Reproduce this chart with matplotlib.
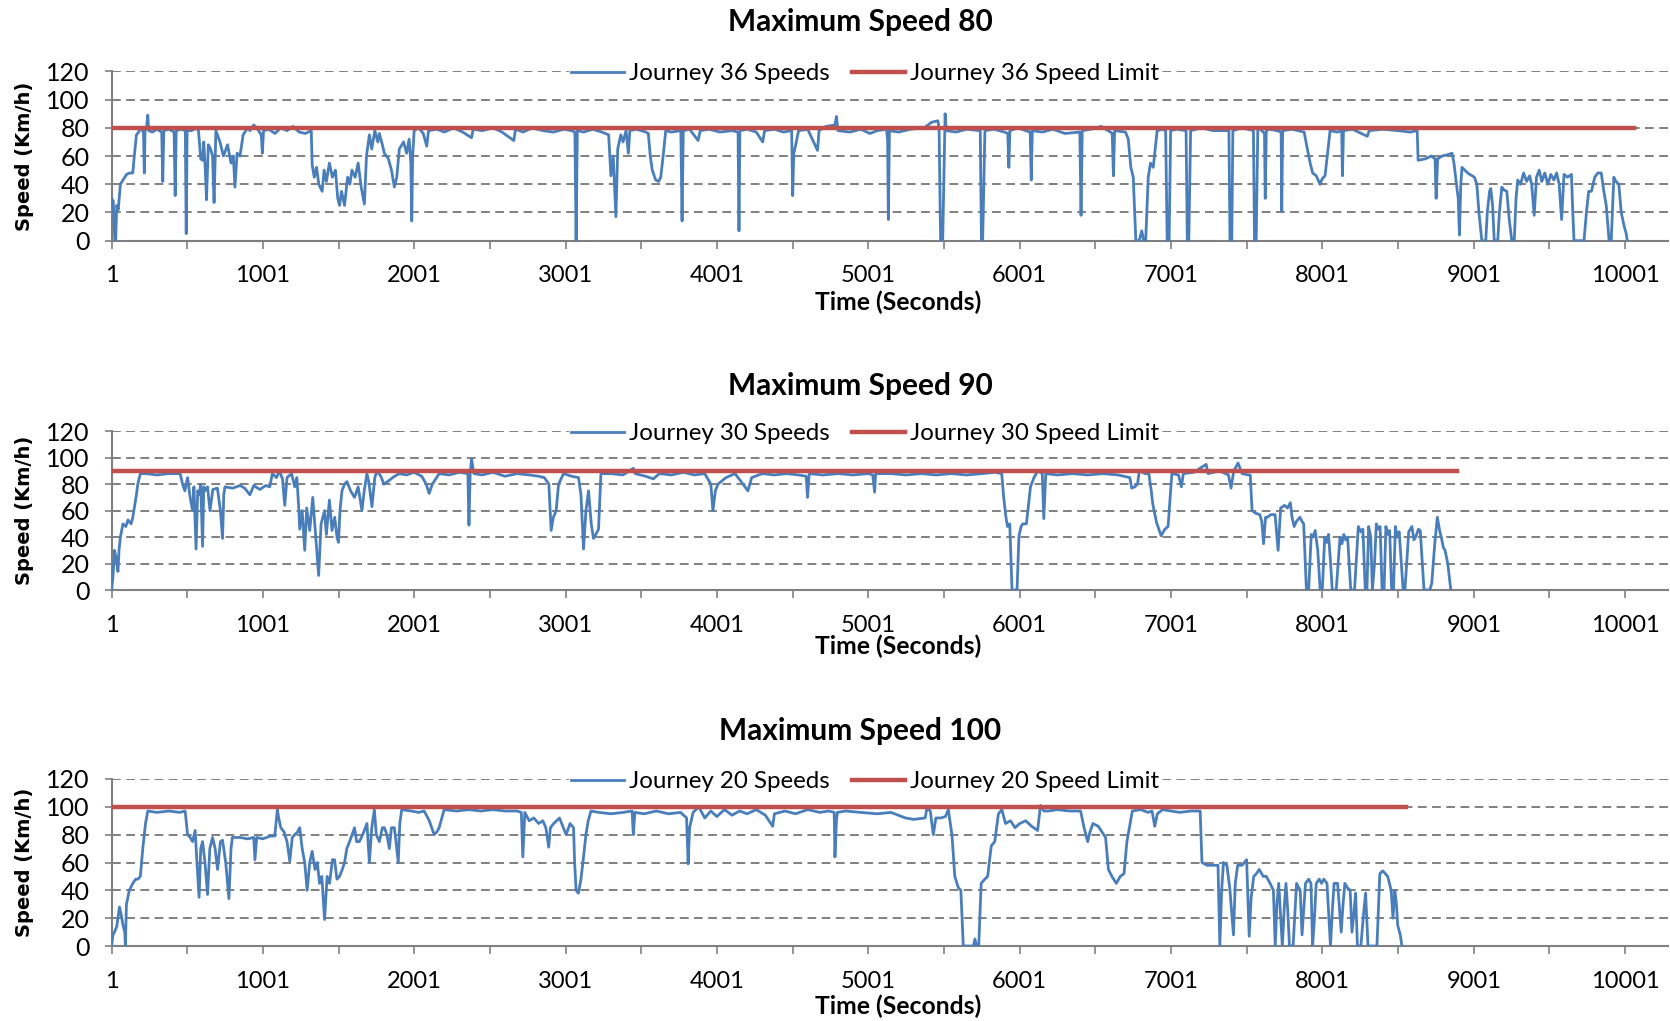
import matplotlib
matplotlib.use('Agg')
from matplotlib import pyplot as plt

plt.rcParams['font.family'] = ['Lato', 'DejaVu Sans']

##### Data: (time in seconds, speed in km/h)
journey36 = [(1,30),(12,28),(22,0),(28,0),(35,25),(45,22),(59,40),(76,43),(100,47),(120,48),(141,48),(151,60),(165,75),(180,77),(191,80),
    (205,78),(212,76),(217,48),(222,78),(232,80),(240,89),(246,78),(270,77),(300,79),(332,77),(339,42),(346,78),(380,79),(414,77),(421,32),
    (428,78),(460,79),(488,78),(494,5),(500,78),(530,78),(560,80),(575,78),(590,58),(602,57),(610,70),(620,50),(628,29),(640,68),(655,65),
    (668,60),(678,27),(690,78),(717,70),(740,60),(767,68),(790,55),(805,60),(816,38),(830,62),(849,60),(870,75),(900,80),(915,78),(940,82),
    (960,80),(990,75),(997,62),(1005,78),(1040,79),(1080,76),(1120,80),(1160,78),(1200,81),(1240,77),(1280,76),(1320,78),(1326,54),(1340,45),
    (1355,52),(1370,40),(1392,35),(1405,50),(1420,42),(1440,55),(1460,45),(1480,50),(1495,30),(1507,25),(1520,35),(1540,25),(1560,45),
    (1575,40),(1589,50),(1610,45),(1630,55),(1650,38),(1671,26),(1685,60),(1704,75),(1720,65),(1740,78),(1760,70),(1770,76),(1790,68),
    (1803,62),(1830,58),(1850,50),(1869,38),(1885,45),(1902,65),(1930,70),(1950,62),(1967,72),(1978,55),(1984,14),(1990,60),(2000,78),
    (2030,80),(2060,76),(2083,67),(2095,78),(2150,79),(2200,77),(2260,80),(2320,77),(2379,73),(2390,79),(2450,78),(2520,80),(2580,77),
    (2658,71),(2670,79),(2720,77),(2780,80),(2850,78),(2920,77),(2990,79),(3040,78),(3062,77),(3070,0),(3078,78),(3120,77),(3180,79),
    (3240,77),(3285,75),(3300,46),(3315,60),(3333,17),(3345,65),(3365,75),(3380,70),(3400,78),(3415,62),(3425,78),(3470,79),(3530,77),
    (3547,76),(3560,60),(3573,50),(3596,43),(3615,42),(3629,45),(3645,60),(3662,78),(3700,77),(3762,78),(3770,14),(3778,78),(3820,79),
    (3876,71),(3890,78),(3950,79),(4020,77),(4100,78),(4140,77),(4146,7),(4152,78),(4200,79),(4260,77),(4303,70),(4315,78),(4380,79),
    (4440,77),(4494,78),(4501,32),(4508,62),(4517,66),(4540,78),(4600,79),(4665,64),(4675,78),(4720,81),(4780,82),(4790,88),(4800,78),
    (4880,77),(4950,79),(5011,76),(5060,78),(5120,79),(5128,72),(5133,15),(5140,78),(5200,77),(5280,79),(5369,80),(5420,84),(5460,85),
    (5468,80),(5478,0),(5492,0),(5508,90),(5515,78),(5580,77),(5650,79),(5740,78),(5748,0),(5756,0),(5771,78),(5830,79),(5900,77),
    (5922,76),(5929,52),(5936,78),(5990,80),(6040,78),(6070,77),(6077,43),(6084,78),(6150,77),(6220,79),(6300,76),(6398,77),(6406,18),
    (6414,78),(6470,79),(6540,81),(6600,77),(6612,76),(6620,46),(6628,78),(6700,77),(6718,72),(6735,52),(6751,45),(6768,0),(6790,0),
    (6807,7),(6820,0),(6833,0),(6850,45),(6865,55),(6883,52),(6909,78),(6940,79),(6965,78),(6975,0),(6988,0),(6998,78),(7040,79),
    (7100,78),(7108,0),(7118,0),(7130,78),(7200,80),(7280,78),(7383,78),(7390,0),(7402,0),(7409,78),(7470,80),(7545,78),(7552,0),
    (7563,0),(7574,80),(7600,78),(7618,76),(7623,30),(7630,78),(7650,79),(7700,78),(7728,77),(7732,21),(7738,78),(7800,79),(7880,77),
    (7903,64),(7920,55),(7936,48),(7960,46),(7985,40),(8000,44),(8018,46),(8035,62),(8051,78),(8100,77),(8128,78),(8133,46),(8140,78),
    (8200,79),(8297,74),(8310,78),(8400,79),(8500,78),(8580,77),(8627,78),(8633,57),(8680,58),(8720,60),(8745,58),(8752,30),(8762,58),
    (8791,60),(8830,61),(8857,62),(8870,55),(8883,43),(8898,30),(8906,4),(8915,40),(8923,52),(8960,48),(9005,45),(9021,40),(9035,20),
    (9054,0),(9080,0),(9090,20),(9105,35),(9113,37),(9125,25),(9136,0),(9159,0),(9170,20),(9186,38),(9200,36),(9219,35),(9235,15),
    (9252,0),(9268,0),(9280,30),(9291,43),(9310,40),(9330,48),(9350,42),(9370,46),(9383,40),(9400,18),(9415,45),(9433,50),(9450,42),
    (9470,48),(9490,40),(9510,47),(9530,43),(9548,48),(9565,40),(9581,15),(9597,47),(9620,45),(9646,47),(9655,20),(9663,0),(9700,0),
    (9729,0),(9745,20),(9760,35),(9778,35),(9800,45),(9820,48),(9843,48),(9860,35),(9876,25),(9895,0),(9909,0),(9926,45),(9940,42),
    (9959,40),(9975,20),(9995,10),(10008,5),(10015,0)]

journey30 = [(1,0),(10,10),(20,30),(30,25),(43,14),(50,30),(59,40),(76,50),(95,48),(109,53),(130,50),(141,55),(151,62),(165,72),(174,80),
    (191,88),(230,88),(300,87),(380,88),(454,88),(470,80),(485,75),(503,85),(520,70),(536,60),(545,78),(559,31),(570,75),(579,72),
    (590,80),(602,33),(610,78),(618,75),(635,78),(651,60),(670,76),(700,77),(720,60),(734,39),(742,72),(750,78),(800,77),(850,79),
    (880,77),(915,72),(940,79),(980,76),(1020,79),(1046,78),(1063,88),(1090,85),(1110,90),(1130,84),(1145,64),(1160,85),(1190,88),
    (1211,78),(1225,85),(1237,63),(1244,46),(1260,60),(1277,30),(1290,62),(1310,45),(1330,70),(1350,40),(1369,11),(1385,50),(1408,60),
    (1420,42),(1440,68),(1457,45),(1475,55),(1490,40),(1500,36),(1510,60),(1523,75),(1540,80),(1556,82),(1580,75),(1606,70),(1630,78),
    (1655,60),(1670,75),(1688,88),(1700,82),(1721,63),(1740,85),(1754,90),(1780,86),(1800,80),(1836,83),(1870,86),(1902,88),(1950,87),
    (2000,89),(2050,86),(2080,80),(2099,73),(2120,80),(2165,88),(2230,87),(2300,89),(2355,88),(2362,49),(2370,88),(2379,99),(2395,88),
    (2450,87),(2520,89),(2600,86),(2680,88),(2760,87),(2823,86),(2860,85),(2890,80),(2905,45),(2920,55),(2938,60),(2954,80),(2987,88),
    (3040,86),(3086,85),(3102,72),(3119,31),(3135,60),(3152,75),(3170,50),(3185,39),(3200,42),(3218,46),(3234,88),(3300,88),(3380,87),
    (3448,92),(3460,88),(3530,86),(3580,84),(3620,88),(3700,87),(3780,89),(3850,87),(3920,88),(3960,80),(3974,60),(3990,75),(4007,80),
    (4060,85),(4120,88),(4160,82),(4205,75),(4230,85),(4300,88),(4380,87),(4460,88),(4540,87),(4590,86),(4599,70),(4610,88),(4700,87),
    (4800,88),(4900,87),(5000,88),(5030,87),(5042,74),(5049,88),(5150,88),(5250,87),(5350,88),(5450,87),(5550,88),(5650,87),(5750,88),
    (5840,89),(5882,88),(5895,70),(5910,55),(5920,48),(5935,50),(5950,0),(5983,0),(5996,41),(6010,48),(6021,50),(6045,50),(6072,78),
    (6095,85),(6110,88),(6122,90),(6150,88),(6160,54),(6173,88),(6250,87),(6350,88),(6450,87),(6550,88),(6650,87),(6728,85),(6741,77),
    (6760,78),(6779,80),(6791,90),(6830,88),(6854,88),(6870,75),(6880,65),(6905,51),(6935,41),(6960,46),(6981,48),(7006,88),(7050,87),
    (7069,78),(7082,88),(7150,89),(7233,95),(7245,88),(7320,90),(7380,87),(7397,77),(7415,90),(7443,96),(7470,88),(7510,87),(7524,87),
    (7536,60),(7560,58),(7587,57),(7600,52),(7612,35),(7625,55),(7637,55),(7660,57),(7688,57),(7708,30),(7725,62),(7750,64),(7770,62),
    (7789,66),(7800,55),(7814,48),(7830,52),(7852,55),(7865,52),(7877,50),(7895,0),(7910,0),(7927,42),(7940,40),(7953,45),(7970,30),
    (7986,0),(8000,0),(8016,40),(8030,36),(8041,42),(8055,20),(8066,0),(8092,0),(8117,40),(8130,35),(8142,42),(8155,38),(8167,40),
    (8188,0),(8213,0),(8238,48),(8255,44),(8268,46),(8284,0),(8295,0),(8306,48),(8320,40),(8331,0),(8345,20),(8357,50),(8370,46),
    (8382,48),(8395,0),(8408,0),(8420,48),(8432,42),(8445,45),(8458,0),(8470,0),(8483,48),(8495,40),(8508,44),(8534,0),(8546,0),
    (8571,44),(8592,48),(8605,38),(8617,40),(8635,46),(8647,45),(8672,0),(8710,0),(8723,5),(8743,35),(8760,55),(8775,45),(8786,40),
    (8800,32),(8811,30),(8829,20),(8849,0)]

journey20 = [(1,0),(10,8),(20,10),(35,14),(43,20),(53,28),(65,22),(76,15),(88,10),(92,0),(99,30),(118,40),(141,45),(160,48),(174,48),
    (191,50),(207,70),(225,88),(240,97),(300,96),(380,97),(450,96),(487,97),(503,80),(520,78),(536,75),(553,83),(565,60),(579,35),
    (590,70),(602,75),(618,60),(635,37),(650,70),(668,78),(685,70),(701,55),(720,75),(734,76),(755,60),(776,34),(790,70),(799,78),
    (849,78),(900,77),(940,78),(948,62),(960,78),(1000,77),(1050,79),(1079,79),(1096,98),(1105,92),(1119,85),(1140,82),(1160,75),
    (1178,61),(1195,78),(1211,80),(1230,82),(1244,85),(1260,70),(1277,60),(1293,40),(1310,60),(1326,68),(1345,55),(1360,60),(1375,45),
    (1390,50),(1408,19),(1425,50),(1441,45),(1460,62),(1474,62),(1490,48),(1507,50),(1525,55),(1540,60),(1555,70),(1573,75),(1590,80),
    (1606,85),(1620,75),(1638,75),(1660,80),(1688,88),(1704,60),(1720,85),(1737,98),(1750,80),(1770,75),(1790,85),(1803,85),(1820,80),
    (1836,70),(1850,85),(1869,85),(1880,75),(1895,60),(1905,88),(1918,98),(1980,97),(2030,96),(2066,97),(2100,90),(2132,80),(2150,82),
    (2165,85),(2198,98),(2280,97),(2360,98),(2440,97),(2520,98),(2600,97),(2680,97),(2708,96),(2718,64),(2731,96),(2760,90),(2790,92),
    (2823,88),(2850,90),(2870,85),(2889,71),(2900,85),(2922,88),(2960,92),(3004,80),(3030,88),(3053,85),(3060,60),(3070,40),(3085,38),
    (3102,48),(3120,65),(3135,80),(3150,90),(3168,97),(3220,96),(3300,95),(3380,96),(3440,97),(3448,80),(3458,96),(3520,95),(3600,97),
    (3680,95),(3760,96),(3800,92),(3810,59),(3820,85),(3843,96),(3880,100),(3920,92),(3960,97),(4000,93),(4050,98),(4100,94),(4150,97),
    (4200,95),(4260,98),(4320,94),(4369,86),(4380,95),(4450,97),(4520,95),(4600,98),(4680,96),(4740,97),(4775,96),(4780,64),(4790,90),
    (4796,96),(4850,97),(4950,96),(5060,95),(5150,96),(5246,92),(5300,91),(5376,92),(5388,99),(5410,97),(5430,80),(5447,92),(5480,92),
    (5510,93),(5529,98),(5553,80),(5572,50),(5595,42),(5612,40),(5620,20),(5628,0),(5695,0),(5705,5),(5715,0),(5730,0),(5746,45),
    (5770,48),(5789,50),(5813,72),(5836,75),(5860,95),(5883,98),(5907,88),(5940,90),(5970,85),(6001,88),(6040,90),(6080,86),(6119,83),
    (6138,101),(6160,97),(6190,97),(6250,98),(6330,97),(6403,97),(6426,85),(6450,75),(6465,82),(6485,88),(6520,86),(6568,78),(6587,55),
    (6610,50),(6639,45),(6665,50),(6690,52),(6709,75),(6745,97),(6800,98),(6850,96),(6875,97),(6893,86),(6910,95),(6945,98),(7000,97),
    (7060,96),(7130,97),(7193,97),(7205,60),(7240,58),(7276,58),(7311,58),(7323,0),(7335,40),(7347,60),(7370,58),(7390,40),(7413,8),
    (7425,45),(7441,58),(7470,58),(7500,62),(7517,7),(7530,35),(7547,50),(7565,52),(7583,55),(7610,50),(7630,50),(7655,45),(7677,40),
    (7689,0),(7700,30),(7712,45),(7725,20),(7736,0),(7750,30),(7760,45),(7772,25),(7783,0),(7807,0),(7830,45),(7854,40),(7866,8),
    (7889,45),(7910,48),(7925,45),(7936,0),(7948,20),(7960,45),(7980,48),(7995,45),(8010,48),(8031,45),(8054,0),(8066,25),(8078,45),
    (8101,45),(8125,10),(8137,30),(8149,45),(8165,42),(8184,40),(8196,10),(8210,25),(8220,38),(8232,0),(8255,0),(8270,20),(8286,38),
    (8302,0),(8361,0),(8380,52),(8400,54),(8432,50),(8455,40),(8467,20),(8479,40),(8490,30),(8498,15),(8515,8),(8526,0)]

# speed limit lines: (start, end) in seconds and the limit value
limit36 = ([1, 10058], [80, 80])
limit30 = ([1, 8887], [90, 90])
limit20 = ([1, 8550], [100, 100])

titles = ['Maximum Speed 80', 'Maximum Speed 90', 'Maximum Speed 100']
journey_ids = ['36', '30', '20']
x_tick_labels = ['1', '1001', '2001', '3001', '4001', '5001', '6001', '7001', '8001', '9001', '10001']
y_tick_values = [0, 20, 40, 60, 80, 100, 120]

##### Layout (pixels of a 1670x1021 image)
W, H = 1670, 1021
blue = '#4A7EBB'
red = '#C0504D'
grey = '#808080'
panels = [  # (axis bottom px, axis top px, title y px, xlabel y px)
    (240.7, 71.4, 22, 302.5),
    (590.0, 431.3, 385.5, 646.5),
    (946.0, 779.0, 730.5, 1006.5),
]
series = [journey36, journey30, journey20]
limits = [limit36, limit30, limit20]

fig = plt.figure(figsize=(W / 100, H / 100), dpi=100)

for i in range(3):
    bot, top, ty, xy = panels[i]
    ax = fig.add_axes([111.6 / W, 1 - bot / H, (1668 - 111.6) / W, (bot - top) / H])

    t = [p[0] for p in series[i]]
    v = [p[1] for p in series[i]]
    ax.plot(t, v, color=blue, lw=2.0, label='Journey ' + journey_ids[i] + ' Speeds', zorder=3)
    ax.plot(limits[i][0], limits[i][1], color=red, lw=3.2, label='Journey ' + journey_ids[i] + ' Speed Limit', zorder=4)

    ax.set_xlim(1, 10284)
    ax.set_ylim(0, 120)

    # ticks every 500 s, labels every 1000 s
    ax.set_xticks(list(range(1, 10002, 500)))
    lbls = []
    for k in range(len(ax.get_xticks())):
        lbls.append(x_tick_labels[k // 2] if k % 2 == 0 else '')
    ax.set_xticklabels(lbls)
    ax.set_yticks(y_tick_values)

    ax.tick_params(axis='x', direction='out', length=5.8, width=1.2, color=grey, pad=12, labelsize=17)
    ax.tick_params(axis='y', direction='out', length=5, width=1.2, color=grey, pad=11, labelsize=18)

    ax.yaxis.grid(True, color=grey, lw=1.4, linestyle=(0, (4.5, 2.8)))
    ax.set_axisbelow(True)
    for s in ['top', 'right']:
        ax.spines[s].set_visible(False)
    for s in ['left', 'bottom']:
        ax.spines[s].set_color(grey)
        ax.spines[s].set_linewidth(1.5)

    leg = ax.legend(loc='center', bbox_to_anchor=(0.484, 0.985), ncol=2, fontsize=17.4,
                    frameon=True, facecolor='white', edgecolor='none', framealpha=1,
                    handlelength=2.2, handletextpad=0.2, columnspacing=0.9, borderpad=0.1)
    leg.set_zorder(5)

    ax.set_ylabel('Speed (Km/h)', family='DejaVu Sans', fontweight='bold', fontsize=14)
    ax.yaxis.set_label_coords(-(111.6 - 34.5) / (1668 - 111.6), 0.5)

    fig.text(860 / W, 1 - ty / H, titles[i], ha='center', va='center', fontsize=21.5, fontweight='bold')
    fig.text(898 / W, 1 - xy / H, 'Time (Seconds)', ha='center', va='center', fontsize=17.8, fontweight='bold')

plt.savefig('out.png', dpi=100)
